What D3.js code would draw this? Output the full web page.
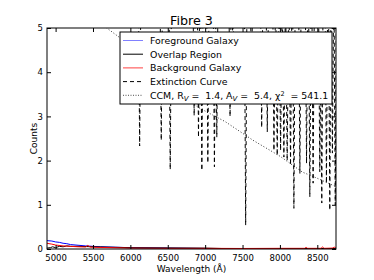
<!DOCTYPE html>
<html>
<head>
<meta charset="utf-8">
<script src="https://cdn.jsdelivr.net/npm/d3@7"></script>
<style>
  body { margin: 0; background: #fff; }
  text { font-family: "DejaVu Sans", sans-serif; white-space: pre; }
</style>
</head>
<body>
<div id="chart"></div>
<script>
// x ticks and y ticks
var xTicks = [5000, 5500, 6000, 6500, 7000, 7500, 8000, 8500];
var yTicks = [0, 1, 2, 3, 4, 5];

// foreground galaxy (blue)
var fgWave = [4880, 4950, 5000, 5050, 5100, 5150, 5200, 5300, 5400, 5500, 5600, 5800, 6000, 6500, 7000, 7500, 8000, 8500, 8750];
var fgCounts = [0.19, 0.18, 0.16, 0.15, 0.13, 0.12, 0.10, 0.085, 0.07, 0.06, 0.05, 0.04, 0.03, 0.02, 0.012, 0.006, 0.01, 0.01, 0.012];

// overlap region (black)
var ovWave = [4880, 4930, 4960, 5000, 5050, 5100, 5150, 5200, 5300, 5500, 6000, 6500, 7000, 7500, 8000, 8500, 8750];
var ovCounts = [0.02, 0.03, 0.05, 0.03, 0.06, 0.05, 0.07, 0.06, 0.06, 0.05, 0.03, 0.025, 0.02, 0.0, 0.01, 0.01, 0.01];

// background galaxy (red)
var bgWave = [4880, 4950, 5000, 5100, 5200, 5300, 5400, 5430, 5460, 5500, 6000, 6500, 7000, 7500, 8000, 8330, 8350, 8370, 8550, 8570, 8590, 8700, 8730, 8750];
var bgCounts = [0.13, 0.11, 0.09, 0.07, 0.06, 0.05, 0.045, 0.08, 0.045, 0.04, 0.02, 0.015, 0.015, 0.012, 0.015, 0.015, 0.035, 0.015, 0.015, 0.045, 0.015, 0.02, 0.04, 0.02];

// extinction curve (dashed), dips, baseline sits above the axis
var extWave = [4880, 6104, 6124, 6144, 6393, 6413, 6433, 6513, 6533, 6553, 6833, 6853, 6873,
  6891, 6911, 6931, 6936, 6956, 6976, 7016, 7036, 7056, 7104, 7124, 7140, 7140, 7156, 7176,
  7313, 7333, 7353, 7355, 7373, 7391, 7522, 7542, 7562, 7600, 7620, 7640, 7736, 7756, 7776,
  7811, 7831, 7851, 7900, 7920, 7940, 7944, 7964, 7984, 7989, 8009, 8029, 8033, 8053, 8073,
  8077, 8097, 8117, 8122, 8142, 8162, 8167, 8187, 8207, 8247, 8267, 8287, 8336, 8356, 8376,
  8380, 8400, 8420, 8424, 8444, 8464, 8513, 8533, 8546, 8546, 8560, 8580, 8602, 8622, 8642,
  8647, 8667, 8684, 8684, 8702, 8720, 8722, 8740, 8758];
var extCounts = [6.5, 6.5, 2.33, 6.5, 6.5, 2.46, 6.5, 6.5, 1.80, 6.5, 6.5, 3.02, 6.5,
  6.5, 2.53, 6.5, 6.5, 1.78, 6.5, 6.5, 1.95, 6.5, 6.5, 1.86, 5.5, 5.5, 2.53, 6.5,
  6.5, 3.0, 6.5, 6.5, 4.3, 6.5, 6.5, 0.54, 6.5, 6.5, 3.7, 6.5, 6.5, 2.75, 6.5,
  6.5, 2.65, 6.5, 6.5, 2.23, 5.5, 5.5, 2.12, 5.5, 5.5, 2.23, 5.5, 5.5, 2.08, 5.5,
  5.5, 2.0, 5.5, 5.5, 1.9, 6.0, 6.5, 0.92, 6.5, 6.5, 1.71, 6.5, 6.5, 1.94, 6.5,
  6.5, 1.18, 6.5, 6.5, 1.49, 6.5, 6.5, 1.75, 4.0, 4.0, 1.04, 6.5, 6.5, 1.49, 6.5,
  6.5, 0.88, 6.0, 6.0, 2.17, 6.0, 6.0, 1.0, 6.0];

// CCM model (dotted)
var ccmWave = [5400, 5700, 5900, 6200, 6500, 6900, 7270, 7640, 8000, 8300, 8500, 8750];
var ccmCounts = [5.4, 4.98, 4.73, 4.3, 3.8, 3.21, 2.88, 2.46, 2.1, 1.74, 1.6, 1.41];

var width = 374, height = 280;
var margin = { top: 28, right: 38, bottom: 31, left: 47 };
var w = width - margin.left - margin.right,
    h = height - margin.top - margin.bottom;

var svg = d3.select("#chart").append("svg")
  .attr("width", width)
  .attr("height", height);

var x = d3.scaleLinear().domain([4885, 8750]).range([0, w]);
var y = d3.scaleLinear().domain([0, 5]).range([h, 0]);

var g = svg.append("g").attr("transform", "translate(" + margin.left + "," + margin.top + ")");

g.append("clipPath").attr("id", "clip")
  .append("rect").attr("width", w).attr("height", h);

var line = d3.line()
  .x(function (d) { return x(d[0]); })
  .y(function (d) { return y(d[1]); });

var plot = g.append("g").attr("clip-path", "url(#clip)");

function zip(a, b) { return a.map(function (v, i) { return [v, b[i]]; }); }

plot.append("path").datum(zip(extWave, extCounts))
  .attr("d", line).attr("fill", "none").attr("stroke", "#000")
  .attr("stroke-width", 1).attr("stroke-dasharray", "4,3");
plot.append("path").datum(zip(ccmWave, ccmCounts))
  .attr("d", line).attr("fill", "none").attr("stroke", "#000")
  .attr("stroke-width", 0.8).attr("stroke-dasharray", "1,2");
plot.append("path").datum(zip(fgWave, fgCounts))
  .attr("d", line).attr("fill", "none").attr("stroke", "#0000ff").attr("stroke-width", 1);
plot.append("path").datum(zip(ovWave, ovCounts))
  .attr("d", line).attr("fill", "none").attr("stroke", "#000").attr("stroke-width", 1);
plot.append("path").datum(zip(bgWave, bgCounts))
  .attr("d", line).attr("fill", "none").attr("stroke", "#ff0000").attr("stroke-width", 1);

// axes with inward ticks on all sides
var fs = "8.5px";
g.append("g").attr("transform", "translate(0," + h + ")")
  .call(d3.axisBottom(x).tickValues(xTicks).tickSize(-4).tickPadding(6).tickFormat(d3.format("d")))
  .call(function (a) { a.select(".domain").remove(); a.selectAll("text").style("font-size", fs); });
g.append("g")
  .call(d3.axisTop(x).tickValues(xTicks).tickSize(-4).tickFormat(""))
  .call(function (a) { a.select(".domain").remove(); });
g.append("g")
  .call(d3.axisLeft(y).tickValues(yTicks).tickSize(-4).tickPadding(4).tickFormat(d3.format("d")))
  .call(function (a) { a.select(".domain").remove(); a.selectAll("text").style("font-size", fs); });
g.append("g").attr("transform", "translate(" + w + ",0)")
  .call(d3.axisRight(y).tickValues(yTicks).tickSize(-4).tickFormat(""))
  .call(function (a) { a.select(".domain").remove(); });

g.append("rect").attr("width", w).attr("height", h)
  .attr("fill", "none").attr("stroke", "#000").attr("stroke-width", 1);

// titles
svg.append("text").attr("x", margin.left + w / 2).attr("y", 25)
  .attr("text-anchor", "middle").style("font-size", "12.7px").text("Fibre 3");
svg.append("text").attr("x", margin.left + w / 2).attr("y", 272)
  .attr("text-anchor", "middle").style("font-size", "9px").text("Wavelength (Å)");
svg.append("text").attr("transform", "translate(37," + (margin.top + h / 2) + ") rotate(-90)")
  .attr("text-anchor", "middle").style("font-size", "9px").text("Counts");

// legend
var lg = svg.append("g").attr("transform", "translate(120,32)");
lg.append("rect").attr("width", 212).attr("height", 72)
  .attr("fill", "#fff").attr("stroke", "#000").attr("stroke-width", 1);
var entries = [
  { label: "Foreground Galaxy", color: "#8080ff", dash: null },
  { label: "Overlap Region", color: "#000", dash: null },
  { label: "Background Galaxy", color: "#ff4040", dash: null },
  { label: "Extinction Curve", color: "#000", dash: "4,3" },
  { label: "CCM", color: "#000", dash: "1,1.5" }
];
entries.forEach(function (e, i) {
  var yy = 8.5 + i * 13.7;
  lg.append("line").attr("x1", 3).attr("x2", 23).attr("y1", yy).attr("y2", yy)
    .attr("stroke", e.color).attr("stroke-width", e.dash === "1,1.5" ? 0.7 : 1)
    .attr("stroke-dasharray", e.dash);
  var t = lg.append("text").attr("x", 30).attr("y", yy + 3.4).style("font-size", "9.4px");
  if (i < 4) {
    t.text(e.label);
  } else {
    t.append("tspan").text("CCM, R");
    t.append("tspan").attr("dy", 2).style("font-size", "7px").style("font-style", "italic").text("V");
    t.append("tspan").attr("dy", -2).text(" =  1.4, A");
    t.append("tspan").attr("dy", 2).style("font-size", "7px").style("font-style", "italic").text("V");
    t.append("tspan").attr("dy", -2).text(" =  5.4, χ");
    t.append("tspan").attr("dy", -3).style("font-size", "6.5px").text("2");
    t.append("tspan").attr("dy", 3).text("  = 541.1");
  }
});
</script>
</body>
</html>
